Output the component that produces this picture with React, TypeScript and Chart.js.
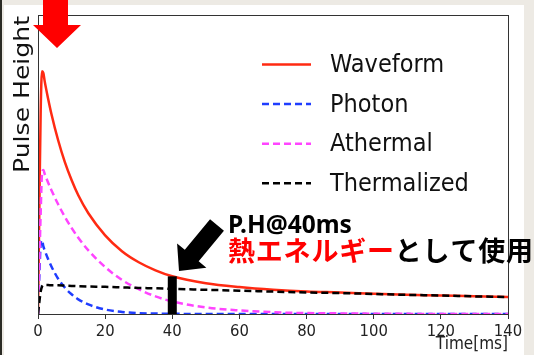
import React, { useEffect, useRef } from "react";
import { Chart, registerables } from "chart.js";

Chart.register(...registerables);

// Sample times [ms] and pulse components (arbitrary units)
const times = [0, 0.4, 0.8, 1.2, 1.6, 2, 3, 4, 6, 8, 10, 12, 15, 20, 25, 30, 35, 40, 50, 60, 70, 80, 90, 100, 110, 120, 130, 140];
const waveform = [0, 0.36, 0.68, 0.812, 0.806, 0.778, 0.721, 0.669, 0.581, 0.508, 0.448, 0.397, 0.337, 0.263, 0.21, 0.173, 0.146, 0.126, 0.103, 0.09, 0.081, 0.075, 0.072, 0.068, 0.0645, 0.062, 0.059, 0.057];
const photon = [0, 0.13, 0.235, 0.247, 0.226, 0.213, 0.184, 0.159, 0.118, 0.088, 0.066, 0.049, 0.032, 0.015, 0.007, 0.003, 0.0015, 0.0007, 0, 0, 0, 0, 0, 0, 0, 0, 0, 0];
const athermal = [0, 0.17, 0.34, 0.47, 0.482, 0.468, 0.44, 0.414, 0.367, 0.325, 0.288, 0.255, 0.213, 0.157, 0.114, 0.083, 0.059, 0.042, 0.022, 0.012, 0.006, 0.003, 0.002, 0.001, 0.0005, 0, 0, 0];
const thermalized = [0, 0.04, 0.075, 0.092, 0.097, 0.097, 0.097, 0.096, 0.096, 0.095, 0.094, 0.093, 0.092, 0.091, 0.089, 0.087, 0.086, 0.084, 0.081, 0.078, 0.075, 0.072, 0.07, 0.067, 0.064, 0.062, 0.059, 0.057];

const seriesLabels = ["Waveform", "Photon", "Athermal", "Thermalized"];
const seriesColors = ["#ff2a12", "#1f3dff", "#ff44ff", "#000000"];
const xMin = 0;
const xMax = 140;
const xStep = 20;
const markTime = 40;

const axisTitle = "Time[ms]";
const yTitle = "Pulse Height";
const noteLine1 = "P.H@40ms";
const noteRed = "熱エネルギー";
const noteBlack = "として使用";

const W = 534;
const H = 355;
// plot text is slightly taller than wide
const TEXT_STRETCH = 1.14;
const narrowFont = '"Liberation Sans Narrow", "DejaVu Sans Condensed", "DejaVu Sans", sans-serif';

const toPoints = (vals: number[]) => times.map((t, i) => ({ x: t, y: vals[i] }));

const decorPlugin = {
  id: "decor",
  afterDatasetsDraw(chart: any) {
    const { ctx, chartArea, scales } = chart;
    const xs = scales.x;
    const ys = scales.y;
    // thick marker at the sampling time, up to the waveform height
    const idx = times.indexOf(markTime);
    const px = xs.getPixelForValue(markTime);
    const top = ys.getPixelForValue(waveform[idx]);
    ctx.save();
    ctx.fillStyle = "#000";
    ctx.fillRect(px - 4.5, top, 9, chartArea.bottom - top);
    // axes frame
    ctx.strokeStyle = "#333";
    ctx.lineWidth = 1;
    ctx.strokeRect(
      Math.round(chartArea.left) + 0.5,
      Math.round(chartArea.top) + 0.5,
      Math.round(chartArea.right - chartArea.left),
      Math.round(chartArea.bottom - chartArea.top)
    );
    ctx.restore();
  },
  afterDraw(chart: any) {
    const { ctx } = chart;
    const datasets = chart.data.datasets;
    ctx.save();

    // legend
    ctx.textBaseline = "middle";
    ctx.textAlign = "left";
    datasets.forEach((ds: any, i: number) => {
      const y = 64.5 + i * 39.6;
      ctx.strokeStyle = ds.borderColor;
      ctx.lineWidth = 2.5;
      ctx.setLineDash(ds.borderDash || []);
      ctx.beginPath();
      ctx.moveTo(262, y);
      ctx.lineTo(311, y);
      ctx.stroke();
      ctx.setLineDash([]);
      ctx.save();
      ctx.translate(330, y + 1);
      ctx.scale(1, TEXT_STRETCH);
      ctx.font = '22.5px "DejaVu Sans"';
      ctx.fillStyle = "#111";
      ctx.fillText(ds.label, 0, 0);
      ctx.restore();
    });

    // y axis title
    ctx.save();
    ctx.translate(28.5, 94.5);
    ctx.rotate(-Math.PI / 2);
    ctx.scale(TEXT_STRETCH, 1);
    ctx.font = '22px "DejaVu Sans"';
    ctx.fillStyle = "#111";
    ctx.textAlign = "center";
    ctx.textBaseline = "alphabetic";
    ctx.fillText(yTitle, 0, 0);
    ctx.restore();

    // black pointer arrow towards the marker
    const tip = { x: 179, y: 271 };
    const tail = { x: 217, y: 225 };
    const dx = tip.x - tail.x;
    const dy = tip.y - tail.y;
    const len = Math.hypot(dx, dy);
    const ux = dx / len;
    const uy = dy / len;
    const nx = -uy;
    const ny = ux;
    const headLen = 20;
    const headHalf = 19;
    const shaftHalf = 9;
    const bx = tip.x - ux * headLen;
    const by = tip.y - uy * headLen;
    ctx.fillStyle = "#000";
    ctx.beginPath();
    ctx.moveTo(tail.x + nx * shaftHalf, tail.y + ny * shaftHalf);
    ctx.lineTo(bx + nx * shaftHalf, by + ny * shaftHalf);
    ctx.lineTo(bx + nx * headHalf, by + ny * headHalf);
    ctx.lineTo(tip.x, tip.y);
    ctx.lineTo(bx - nx * headHalf, by - ny * headHalf);
    ctx.lineTo(bx - nx * shaftHalf, by - ny * shaftHalf);
    ctx.lineTo(tail.x - nx * shaftHalf, tail.y - ny * shaftHalf);
    ctx.closePath();
    ctx.fill();

    // annotation text
    ctx.textAlign = "left";
    ctx.textBaseline = "alphabetic";
    ctx.font = 'bold 24.5px "Noto Sans"';
    ctx.fillStyle = "#000";
    ctx.fillText(noteLine1, 228, 233);
    ctx.font = 'bold 27px "Noto Sans CJK JP"';
    (ctx as any).letterSpacing = "0.8px";
    ctx.textBaseline = "middle";
    ctx.fillStyle = "#ff0000";
    ctx.fillText(noteRed, 228, 251);
    const wRed = ctx.measureText(noteRed).width;
    ctx.fillStyle = "#000";
    ctx.fillText(noteBlack, 228 + wRed, 251);
    (ctx as any).letterSpacing = "0px";

    // red arrow at the pulse onset
    ctx.fillStyle = "#ff0000";
    ctx.beginPath();
    ctx.moveTo(43, 0);
    ctx.lineTo(68, 0);
    ctx.lineTo(68, 25);
    ctx.lineTo(81, 25);
    ctx.lineTo(57, 48);
    ctx.lineTo(33, 25);
    ctx.lineTo(43, 25);
    ctx.closePath();
    ctx.fill();

    ctx.restore();
  },
};

export default function App() {
  const ref = useRef<HTMLCanvasElement | null>(null);

  useEffect(() => {
    if (!ref.current) return;
    const series = [waveform, photon, athermal, thermalized];
    const chart = new Chart(ref.current, {
      type: "line",
      data: {
        datasets: series.map((vals, i) => ({
          label: seriesLabels[i],
          data: toPoints(vals),
          borderColor: seriesColors[i],
          backgroundColor: seriesColors[i],
          borderWidth: 2.5,
          borderDash: i === 0 ? [] : [7, 4],
          pointRadius: 0,
          fill: false,
          cubicInterpolationMode: "monotone",
          order: series.length - i,
        })),
      },
      options: {
        responsive: false,
        animation: false,
        devicePixelRatio: 1,
        layout: { padding: { left: 38, top: 15, right: 26, bottom: 0 } },
        plugins: {
          legend: { display: false },
          tooltip: { enabled: false },
        },
        scales: {
          x: {
            type: "linear",
            min: xMin,
            max: xMax,
            afterFit: (s: any) => {
              s.height = 41;
            },
            ticks: {
              stepSize: xStep,
              font: { family: narrowFont, size: 16.5 },
              color: "#222",
              padding: 3,
              maxRotation: 0,
            },
            grid: {
              drawOnChartArea: false,
              drawTicks: true,
              tickLength: 5,
              color: "#333",
            },
            border: { display: false },
            title: {
              display: true,
              text: axisTitle,
              align: "end",
              font: { family: narrowFont, size: 17 },
              color: "#222",
              padding: { top: 0, bottom: 0 },
            },
          },
          y: {
            display: false,
            min: 0,
            max: 1,
          },
        },
      },
      plugins: [decorPlugin],
    } as any);
    return () => chart.destroy();
  }, []);

  return (
    <div style={{ position: "fixed", left: 0, top: 0, width: W, height: H, background: "#edeae4", overflow: "hidden" }}>
      <div style={{ position: "absolute", left: 0, top: 0, width: 2, height: H, background: "#2b2b25" }} />
      <div style={{ position: "absolute", left: 4, top: 5, width: 520, height: H - 5, background: "#ffffff" }} />
      <canvas ref={ref} width={W} height={H} style={{ position: "absolute", left: 0, top: 0, width: W, height: H }} />
    </div>
  );
}
